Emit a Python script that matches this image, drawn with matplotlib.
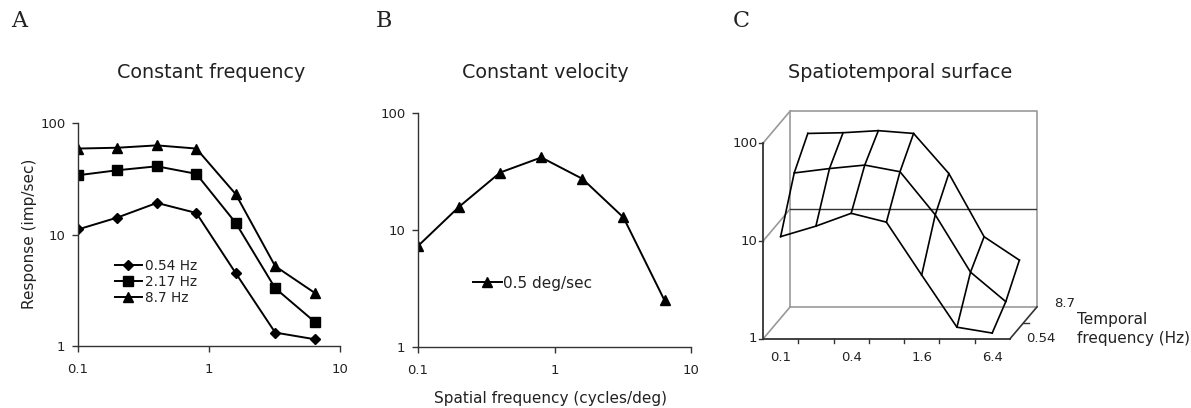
import numpy as np
import matplotlib
matplotlib.use('Agg')
from matplotlib import pyplot as plt

# Spatial frequencies (cycles/deg) shared by all panels
spatial_freq = [0.1, 0.2, 0.4, 0.8, 1.6, 3.2, 6.4]
spatial_labels = ['0.1', '', '0.4', '', '1.6', '', '6.4']

# Panel A: constant temporal frequency
resp_054 = [11.1, 14.2, 19.2, 15.6, 4.5, 1.32, 1.15]
resp_217 = [34.0, 37.7, 40.9, 35.0, 12.7, 3.3, 1.65]
resp_87 = [59.0, 60.0, 63.0, 59.0, 23.0, 5.2, 3.0]
temporal_labels = ['0.54 Hz', '2.17 Hz', '8.7 Hz']

# Panel B: constant velocity
velocity_resp = [7.3, 15.8, 31.0, 41.7, 27.4, 12.8, 2.5]
velocity_label = '0.5 deg/sec'

# Panel C: surface rows, front to back
depth_labels = ['0.54', '2.17', '8.7']

W, H = 1191, 408
TXT = '#222222'
plt.rcParams['font.family'] = ['DejaVu Sans']


def px_axes(fig, left, top, right, bottom):
    return fig.add_axes([left / W, 1 - bottom / H, (right - left) / W,
                         (bottom - top) / H])


def style_log_axes(ax):
    ax.set_xscale('log')
    ax.set_yscale('log')
    ax.set_xlim(0.1, 10)
    ax.set_ylim(1, 100)
    for s in ['top', 'right']:
        ax.spines[s].set_visible(False)
    for s in ['left', 'bottom']:
        ax.spines[s].set_color('#333333')
        ax.spines[s].set_linewidth(1.0)
    ax.set_xticks([0.1, 1, 10])
    ax.set_xticklabels(['0.1', '1', '10'])
    ax.set_yticks([1, 10, 100])
    ax.set_yticklabels(['1', '10', '100'])
    ax.minorticks_off()
    ax.tick_params(length=4, width=1, color='#333333', labelsize=9.5,
                   labelcolor=TXT)
    ax.tick_params(axis='x', pad=8)
    ax.tick_params(axis='y', pad=5)


fig = plt.figure(figsize=(W / 100, H / 100), dpi=100)

# ---- Panel A
axA = px_axes(fig, 78, 123, 340, 346)
style_log_axes(axA)
mk = dict(color='black', lw=1.4, markeredgecolor='black')
axA.plot(spatial_freq, resp_054, marker='D', ms=5.5, label=temporal_labels[0], **mk)
axA.plot(spatial_freq, resp_217, marker='s', ms=6.5, label=temporal_labels[1], **mk)
axA.plot(spatial_freq, resp_87, marker='^', ms=7, label=temporal_labels[2], **mk)
axA.legend(loc='center left', bbox_to_anchor=(0.14, 0.287), frameon=False,
           fontsize=9.8, handlelength=2.0, handletextpad=0.2,
           labelspacing=0.15, borderpad=0, borderaxespad=0,
           labelcolor=TXT)
fig.text(30 / W, 1 - 234 / H, 'Response (imp/sec)', rotation=90,
         ha='center', va='center', fontsize=11, color=TXT)
fig.text(211 / W, 1 - 73 / H, 'Constant frequency', ha='center',
         va='center', fontsize=13.8, color=TXT)

# ---- Panel B
axB = px_axes(fig, 418, 113, 691, 347)
style_log_axes(axB)
axB.plot(spatial_freq, velocity_resp, marker='^', ms=7, label=velocity_label, **mk)
axB.legend(loc='center left', bbox_to_anchor=(0.2, 0.2735), frameon=False,
           fontsize=11, handlelength=1.9, handletextpad=0.1,
           borderpad=0, borderaxespad=0, labelcolor=TXT)
fig.text(545 / W, 1 - 73 / H, 'Constant velocity', ha='center',
         va='center', fontsize=13.8, color=TXT)
fig.text(550 / W, 1 - 398 / H, 'Spatial frequency (cycles/deg)',
         ha='center', va='center', fontsize=11, color=TXT)

# ---- Panel C: oblique projection of a 3-row wireframe surface
dx, dy = 0.771, 0.328   # full depth, in category and decade units
axC = px_axes(fig, 763, 111, 1037, 339)
axC.set_xlim(0, 7 + dx)
axC.set_ylim(0, 2 + dy)
axC.axis('off')

wall = dict(color='#999999', lw=1.2, clip_on=False)
# back wall and floor
axC.plot([dx, dx, 7 + dx, 7 + dx, dx], [dy, 2 + dy, 2 + dy, dy, dy], **wall)
axC.plot([0, dx], [0, dy], **wall)
axC.plot([7, 7 + dx], [0, dy], color='#333333', lw=1.2, clip_on=False)
# side wall gridlines
axC.plot([0, dx], [2, 2 + dy], **wall)
axC.plot([0, dx], [1, 1 + dy], **wall)
axC.plot([dx, 7 + dx], [1 + dy, 1 + dy], color='#333333', lw=1.0)
# front axes
axC.plot([0, 0, 7], [2, 0, 0], color='#333333', lw=1.3, clip_on=False)

rows = [resp_054, resp_217, resp_87]
n = len(spatial_freq)
grid_x = np.array([[i + 0.5 + dx * j / 2 for i in range(n)] for j in range(3)])
grid_y = np.array([[np.log10(rows[j][i]) + dy * j / 2 for i in range(n)]
                   for j in range(3)])
for j in range(3):
    axC.plot(grid_x[j], grid_y[j], color='black', lw=1.2, clip_on=False)
for i in range(n):
    axC.plot(grid_x[:, i], grid_y[:, i], color='black', lw=1.2, clip_on=False)

# ticks and labels
for k in range(1, n):
    axC.plot([k, k], [0, -0.045], color='#333333', lw=1.0, clip_on=False)
for v in range(3):
    axC.plot([0, -0.1], [v, v], color='#333333', lw=1.0, clip_on=False)
    axC.text(-0.16, v, ['1', '10', '100'][v], ha='right', va='center',
             fontsize=9.5, color=TXT)
for i, lab in enumerate(spatial_labels):
    axC.text(i + 0.5, -0.19, lab, ha='center', va='center', fontsize=9.5,
             color=TXT)
axC.plot([7 + dx / 2, 7 + dx / 2 + 0.15], [dy / 2, dy / 2],
         color='#333333', lw=1.0, clip_on=False)
axC.text(7 + 0.87, 0.0, depth_labels[0], ha='center', va='center',
         fontsize=9.5, color=TXT)
axC.text(7 + dx + 0.77, dy + 0.03, depth_labels[2], ha='center',
         va='center', fontsize=9.5, color=TXT)
fig.text(1077 / W, 1 - 329 / H, 'Temporal\nfrequency (Hz)', ha='left',
         va='center', fontsize=11, color=TXT, linespacing=1.35)
fig.text(900 / W, 1 - 73 / H, 'Spatiotemporal surface', ha='center',
         va='center', fontsize=13.8, color=TXT)

# panel letters
for x, letter in [(11, 'A'), (376, 'B'), (733, 'C')]:
    fig.text(x / W, 1 - 21 / H, letter, ha='left', va='center',
             fontsize=16, family='DejaVu Serif', color=TXT)

fig.savefig('out.png', dpi=100)
